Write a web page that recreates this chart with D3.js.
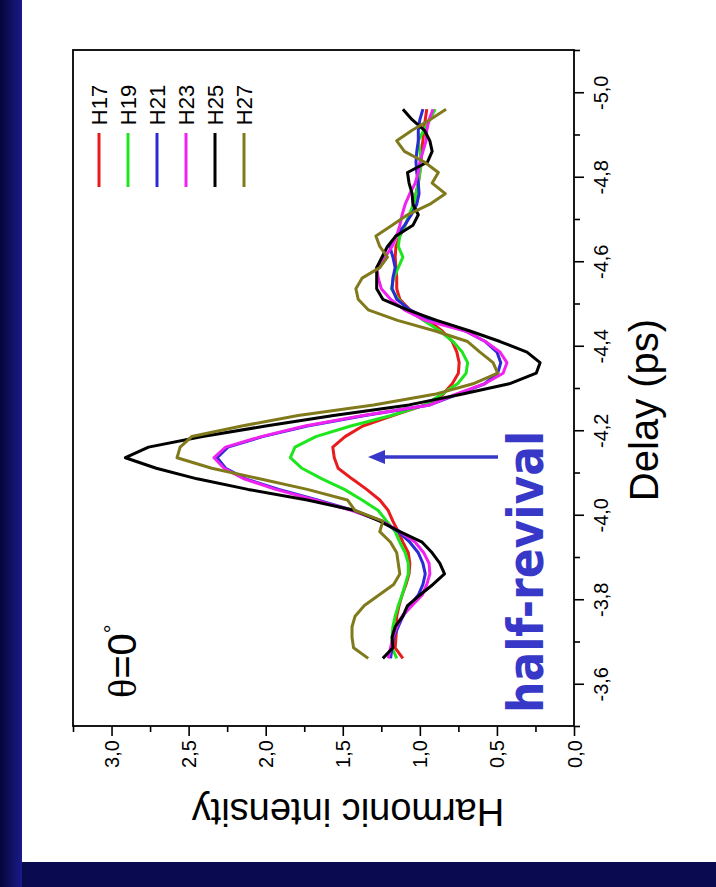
<!DOCTYPE html>
<html><head><meta charset="utf-8">
<script src="https://cdn.jsdelivr.net/npm/d3@7"></script>
<style>html,body{margin:0;padding:0;background:#0a0a4a;}svg{display:block;}</style>
</head><body>
<svg id="c" width="716" height="887"></svg>
<script>
// ---- data ----
const delayStart = -3.66, delayStep = -0.025, nPts = 53;
const delays = d3.range(nPts).map(i => +(delayStart + i*delayStep).toFixed(3));
const H17 = [1.11,1.16,1.155,1.15,1.15,1.135,1.115,1.09,1.07,1.065,1.075,1.11,1.14,1.175,1.205,1.26,1.345,1.44,1.53,1.555,1.565,1.485,1.37,1.175,0.965,0.85,0.79,0.75,0.745,0.76,0.79,0.855,0.945,1.065,1.13,1.15,1.15,1.155,1.16,1.155,1.13,1.095,1.065,1.04,1.025,1.01,1.0,0.99,0.99,0.98,0.975,0.965,0.955];
const H19 = [1.15,1.18,1.18,1.175,1.16,1.14,1.115,1.095,1.075,1.075,1.095,1.13,1.16,1.215,1.27,1.375,1.49,1.635,1.765,1.84,1.81,1.675,1.448,1.185,0.965,0.86,0.755,0.70,0.69,0.725,0.785,0.87,0.975,1.075,1.14,1.185,1.17,1.14,1.11,1.14,1.13,1.095,1.07,1.04,1.025,1.01,1.0,0.99,1.0,1.01,0.975,0.935,0.90];
const H21 = [1.19,1.18,1.17,1.14,1.11,1.065,1.01,0.98,0.965,0.98,1.01,1.065,1.14,1.245,1.43,1.665,1.915,2.13,2.26,2.315,2.245,2.02,1.73,1.355,0.935,0.755,0.58,0.495,0.475,0.50,0.575,0.705,0.92,1.065,1.15,1.18,1.175,1.16,1.175,1.195,1.155,1.10,1.055,1.02,1.005,1.01,1.02,1.025,1.02,1.01,1.01,1.0,0.98];
const H23 = [1.205,1.19,1.175,1.15,1.115,1.05,0.985,0.955,0.935,0.94,0.975,1.03,1.13,1.25,1.44,1.68,1.935,2.14,2.27,2.335,2.26,2.03,1.745,1.37,0.935,0.77,0.58,0.46,0.435,0.48,0.575,0.705,0.965,1.10,1.19,1.25,1.27,1.28,1.225,1.18,1.15,1.13,1.115,1.095,1.065,1.03,1.01,1.0,0.98,0.96,0.955,0.94,0.915];
const H25 = [1.24,1.175,1.18,1.16,1.11,1.08,1.0,0.915,0.84,0.87,0.92,0.985,1.13,1.26,1.42,1.73,2.115,2.445,2.71,2.91,2.76,2.41,2.0,1.56,1.07,0.73,0.42,0.245,0.22,0.305,0.48,0.675,0.89,1.08,1.24,1.28,1.28,1.28,1.245,1.21,1.155,1.045,1.01,1.045,1.05,1.07,1.08,0.95,0.92,0.935,0.97,1.05,1.11];
const H27 = [1.335,1.43,1.44,1.44,1.42,1.36,1.265,1.17,1.13,1.14,1.15,1.19,1.26,1.24,1.42,1.47,1.73,2.04,2.35,2.575,2.555,2.48,2.155,1.79,1.30,0.905,0.655,0.495,0.525,0.61,0.69,0.90,1.145,1.335,1.40,1.415,1.375,1.26,1.21,1.26,1.285,1.18,1.08,0.935,0.835,0.92,0.88,0.97,1.10,1.15,1.05,0.935,0.83];
const seriesNames = ["H17","H19","H21","H23","H25","H27"];
const seriesValues = [H17,H19,H21,H23,H25,H27];
const seriesColors = ["#e81c1c","#1ee61e","#2b2bd6","#f022f0","#000000","#807a1c"];
const delayTicks = [-5.0,-4.8,-4.6,-4.4,-4.2,-4.0,-3.8,-3.6];
const delayMinor = [-5.1,-4.9,-4.7,-4.5,-4.3,-4.1,-3.9,-3.7,-3.5];
const intTicks = [0,0.5,1.0,1.5,2.0,2.5,3.0];
const intMinor = [0.25,0.75,1.25,1.75,2.25,2.75,3.25];
const xTitle = "Delay (ps)", yTitle = "Harmonic intensity";
const angleLabel = "0", annotation = "half-revival";

// ---- layout ----
const svg = d3.select("#c");
const defs = svg.append("defs");
const lg = defs.append("linearGradient").attr("id","bgl").attr("x1","0").attr("x2","1");
lg.append("stop").attr("offset","0").attr("stop-color","#05053a");
lg.append("stop").attr("offset","1").attr("stop-color","#1a1a8a");
svg.append("rect").attr("width",716).attr("height",887).attr("fill","#0a0a50");
svg.append("rect").attr("width",22).attr("height",887).attr("fill","url(#bgl)");
svg.append("rect").attr("x",22).attr("y",0).attr("width",694).attr("height",862).attr("fill","#ffffff");

const pTop=50, pBottom=726, pLeft=73, pRight=574;
const yD = d3.scaleLinear().domain([-5.1,-3.5]).range([pTop,pBottom]);
const xV = d3.scaleLinear().domain([0,3.25]).range([pRight,pLeft]);
const fmt = d => d.toFixed(1).replace(".",",");
const font = "'Liberation Sans', Arial, sans-serif";

// delay axis (right)
const ga = svg.append("g").attr("transform",`translate(${pRight},0)`);
ga.call(d3.axisRight(yD).tickValues(delayTicks).tickSize(10).tickFormat(fmt));
const gam = svg.append("g").attr("transform",`translate(${pRight},0)`);
gam.call(d3.axisRight(yD).tickValues(delayMinor).tickSize(6).tickFormat(""));
[ga,gam].forEach(g=>{g.select(".domain").remove(); g.selectAll("line").attr("stroke","#000").attr("stroke-width",1.6);});
ga.selectAll("text").attr("x",null).attr("dy",null).attr("transform","translate(34,0) rotate(-90)")
  .attr("text-anchor","middle").attr("fill","#000").style("font-family",font).style("font-size","20px");

// intensity axis (bottom)
const gb = svg.append("g").attr("transform",`translate(0,${pBottom})`);
gb.call(d3.axisBottom(xV).tickValues(intTicks).tickSize(10).tickFormat(fmt));
const gbm = svg.append("g").attr("transform",`translate(0,${pBottom})`);
gbm.call(d3.axisBottom(xV).tickValues(intMinor).tickSize(6).tickFormat(""));
[gb,gbm].forEach(g=>{g.select(".domain").remove(); g.selectAll("line").attr("stroke","#000").attr("stroke-width",1.6);});
gb.selectAll("text").attr("y",null).attr("dy","0.35em").attr("transform","translate(0,28) rotate(-90)")
  .attr("text-anchor","middle").attr("fill","#000").style("font-family",font).style("font-size","20px");

// curves
const line = d3.line().x(d=>xV(d[1])).y(d=>yD(d[0]));
const plot = svg.append("g");
seriesValues.forEach((vals,k)=>{
  plot.append("path").datum(delays.map((d,i)=>[d,vals[i]]))
    .attr("d",line).attr("fill","none").attr("stroke",seriesColors[k])
    .attr("stroke-width",3).attr("stroke-linejoin","round");
});

// frame
svg.append("rect").attr("x",pLeft).attr("y",pTop).attr("width",pRight-pLeft).attr("height",pBottom-pTop)
  .attr("fill","none").attr("stroke","#000").attr("stroke-width",1.8);

// legend
const lgX0 = 99, lgDX = 29;
seriesNames.forEach((n,k)=>{
  const x = lgX0 + k*lgDX;
  svg.append("line").attr("x1",x).attr("x2",x).attr("y1",133).attr("y2",187)
    .attr("stroke",seriesColors[k]).attr("stroke-width",3);
  svg.append("text").attr("transform",`translate(${x+8},105) rotate(-90)`).attr("text-anchor","middle")
    .style("font-family",font).style("font-size","22px").attr("fill","#000").text(n);
});

// axis titles
svg.append("text").attr("transform","translate(658,410) rotate(-90)").attr("text-anchor","middle")
  .style("font-family",font).style("font-size","40px").attr("fill","#000").text(xTitle);
svg.append("text").attr("transform","translate(348,799) rotate(180)").attr("text-anchor","middle")
  .style("font-family",font).style("font-size","38px").attr("fill","#000").text(yTitle);

// theta label
const th = svg.append("text").attr("transform","translate(136,698) rotate(-90)").attr("fill","#000")
  .style("font-size","40px");
th.append("tspan").style("font-family","'Liberation Serif', serif").text("θ");
th.append("tspan").style("font-family",font).text("="+angleLabel);
th.append("tspan").style("font-family",font).style("font-size","22px").attr("dy","-16").text("°");

// annotation
const blue = "#3838c8";
svg.append("text").attr("transform","translate(543,713) rotate(-90)")
  .attr("textLength",282).attr("lengthAdjust","spacingAndGlyphs")
  .style("font-family","'DejaVu Sans', sans-serif").style("font-weight","bold").style("font-size","50px")
  .attr("fill",blue).text(annotation);
svg.append("line").attr("x1",498).attr("x2",380).attr("y1",457).attr("y2",457).attr("stroke",blue).attr("stroke-width",3.5);
svg.append("path").attr("d","M368,457 L385,450 L385,464 Z").attr("fill",blue);
</script>
</body></html>
